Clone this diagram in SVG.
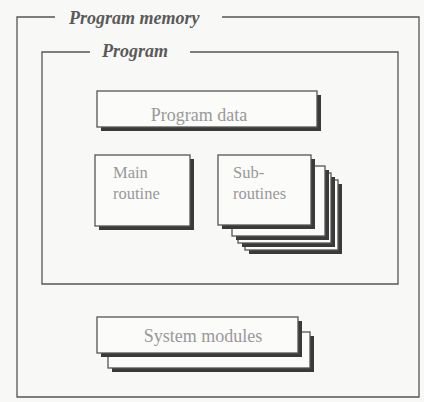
<svg xmlns="http://www.w3.org/2000/svg" width="424" height="402" viewBox="0 0 424 402">
<style>
.frame{fill:none;stroke:#555;stroke-width:1.3}
.box{fill:#fbfbfa;stroke:#555;stroke-width:1.3}
.shadow{fill:#3a3a3a}
.title{font-family:"Liberation Serif",serif;font-style:italic;font-weight:bold;font-size:18px;fill:#5a5a5a}
.lbl{font-family:"Liberation Serif",serif;font-size:18px;fill:#999}
.lbl2{font-family:"Liberation Serif",serif;font-size:16.5px;fill:#999}
</style>
<rect x="0" y="0" width="424" height="402" fill="#f8f8f6"/>
<g id="program-memory">
<path class="frame" d="M55 17 H17 V397 H419 V17 H222"/>
<text class="title" x="69" y="24">Program memory</text>
</g>
<g id="program">
<path class="frame" d="M90 52 H42 V284 H398 V52 H190"/>
<text class="title" x="102" y="57">Program</text>
</g>
<g id="program-data">
<rect class="shadow" x="101" y="95" width="220" height="36"/>
<rect class="box" x="97" y="91" width="220" height="36"/>
<text class="lbl" x="199" y="121" text-anchor="middle">Program data</text>
</g>
<g id="main-routine">
<rect class="shadow" x="99" y="159" width="95" height="71"/>
<rect class="box" x="95" y="155" width="95" height="71"/>
<text class="lbl2" x="113" y="178">Main</text>
<text class="lbl2" x="113" y="199">routine</text>
</g>
<g id="subroutines">
<rect class="shadow" x="249" y="184" width="93" height="70"/>
<rect class="box" x="245" y="180" width="93" height="70"/>
<rect class="shadow" x="242" y="177" width="93" height="70"/>
<rect class="box" x="238" y="173" width="93" height="70"/>
<rect class="shadow" x="236" y="170" width="93" height="70"/>
<rect class="box" x="232" y="166" width="93" height="70"/>
<rect class="shadow" x="222" y="159" width="93" height="70"/>
<rect class="box" x="218" y="155" width="93" height="70"/>
<text class="lbl2" x="233" y="178">Sub-</text>
<text class="lbl2" x="233" y="199">routines</text>
</g>
<g id="system-modules">
<rect class="shadow" x="112" y="336" width="202" height="36"/>
<rect class="box" x="108" y="332" width="202" height="36"/>
<rect class="shadow" x="101" y="321" width="201" height="36"/>
<rect class="box" x="97" y="317" width="201" height="36"/>
<text class="lbl" x="203" y="342" text-anchor="middle">System modules</text>
</g>
<g id="connectors"></g>
</svg>
